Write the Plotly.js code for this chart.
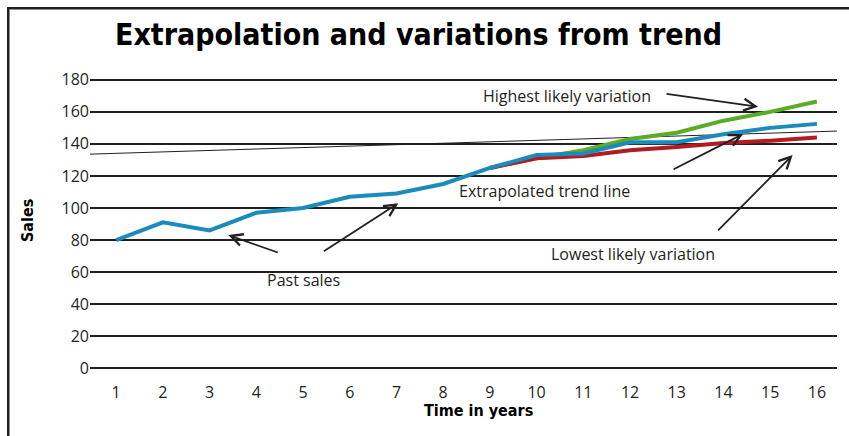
<!DOCTYPE html>
<html>
<head>
<meta charset="utf-8">
<script src="https://cdn.plot.ly/plotly-3.0.1.min.js"></script>
<style>
  html, body { margin: 0; padding: 0; background: #ffffff; }
  #chart { width: 849px; height: 436px; }
  #frame {
    position: absolute; left: 7px; top: 7px; width: 900px; height: 500px;
    border-left: 2px solid #231f20; border-top: 2px solid #231f20;
    box-shadow: inset 1px 1px 0 #8a8a8a; pointer-events: none;
  }
</style>
</head>
<body>
<div id="chart"></div>
<div id="frame"></div>
<script>
// Years on the horizontal axis
const years = [1, 2, 3, 4, 5, 6, 7, 8, 9, 10, 11, 12, 13, 14, 15, 16];

// Past sales and the central path of the forecast
const salesYears = years;
const sales = [80, 91, 86, 97, 100, 107, 109, 115, 125, 133, 134, 141, 141, 146, 150, 152.5];

// Forecast band, starting at year 9
const forecastYears = [9, 10, 11, 12, 13, 14, 15, 16];
const highest = [125, 131, 136, 143, 147, 154.5, 160, 166.5];
const lowest = [125, 131, 132.5, 136, 138, 140.5, 142, 144];

// Straight extrapolated trend across the whole period
const trendYears = [0.44, 16.43];
const trendValues = [133.6, 148];

// Axis ticks
const yTicks = [0, 20, 40, 60, 80, 100, 120, 140, 160, 180];

const narrowBold = 'Liberation Sans Narrow, DejaVu Sans Condensed, sans-serif';
const labelFont = { family: 'Open Sans, sans-serif', size: 16, color: '#231f20' };
const boldFont = { family: narrowBold, size: 16, color: '#000000' };

const traces = [
  { x: trendYears, y: trendValues, mode: 'lines', line: { color: '#231f20', width: 1 }, hoverinfo: 'skip' },
  { x: forecastYears, y: highest, mode: 'lines', line: { color: '#5aab27', width: 4 } },
  { x: forecastYears, y: lowest, mode: 'lines', line: { color: '#b11b21', width: 4 } },
  { x: salesYears, y: sales, mode: 'lines', line: { color: '#1b8bbb', width: 4 } }
];

function arrowNote(x, y, ax, ay) {
  return {
    x: x, y: y, xref: 'x', yref: 'y', ax: ax, ay: ay, text: '',
    showarrow: true, arrowhead: 5, arrowsize: 1.3, arrowwidth: 1.8, arrowcolor: '#231f20'
  };
}
function textNote(x, y, text) {
  return { x: x, y: y, xref: 'x', yref: 'y', text: text, showarrow: false, font: labelFont,
           xanchor: 'center', yanchor: 'middle' };
}

const annotations = [
  textNote(10.65, 170, 'Highest likely variation'),
  textNote(10.16, 110.5, 'Extrapolated trend line'),
  textNote(12.06, 71.5, 'Lowest likely variation'),
  textNote(5.0, 54.8, 'Past sales'),
  arrowNote(14.74, 163.2, -93, -13),
  arrowNote(14.42, 146.2, -71, 36),
  arrowNote(15.48, 133.1, -76, 77),
  arrowNote(3.40, 83.1, 51, 18),
  arrowNote(7.04, 102.9, -76, 49),
  { xref: 'paper', yref: 'paper', x: 0.5207, y: -0.125, xanchor: 'center', yanchor: 'middle',
    text: '<b>Time in years</b>', showarrow: false, font: boldFont },
  { xref: 'paper', yref: 'paper', x: -0.0843, y: 0.51, xanchor: 'center', yanchor: 'middle',
    text: '<b>Sales</b>', textangle: -90, showarrow: false, font: boldFont }
];

const layout = {
  width: 849, height: 436,
  margin: { l: 90, r: 12, t: 75, b: 63 },
  paper_bgcolor: '#ffffff', plot_bgcolor: '#ffffff',
  showlegend: false,
  title: {
    text: '<b>Extrapolation and variations from trend</b>',
    font: { family: narrowBold, size: 30, color: '#000000' },
    x: 0.493, xanchor: 'center', y: 0.922, yanchor: 'middle'
  },
  xaxis: {
    range: [0.44, 16.43], tickvals: years, ticktext: years.map(String),
    showgrid: false, zeroline: false, showline: false, ticks: '',
    tickfont: labelFont, ticklabelstandoff: 8, fixedrange: true
  },
  yaxis: {
    range: [-3, 183], tickvals: yTicks, showgrid: true, gridcolor: '#231f20', gridwidth: 2,
    zeroline: false, showline: false, ticks: '', tickfont: labelFont, fixedrange: true
  },
  annotations: annotations
};

Plotly.newPlot('chart', traces, layout, { staticPlot: true });
</script>
</body>
</html>
